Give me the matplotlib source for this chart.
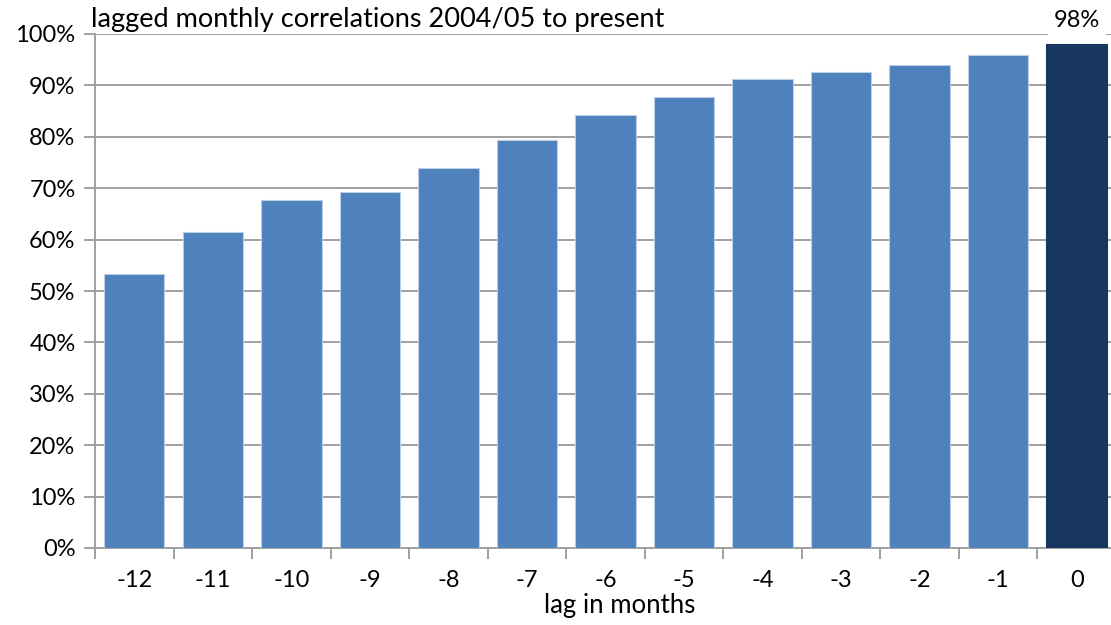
import matplotlib.pyplot as plt
from matplotlib.ticker import FixedLocator, PercentFormatter

lags = ['-12', '-11', '-10', '-9', '-8', '-7', '-6', '-5', '-4', '-3', '-2', '-1', '0']
correlations = [53.3, 61.5, 67.7, 69.3, 73.9, 79.4, 84.2, 87.7, 91.2, 92.6, 94.0, 95.9, 98.0]

plt.rcParams['font.family'] = ['Lato', 'DejaVu Sans']

fig = plt.figure(figsize=(11.11, 6.25), dpi=100)
# the plot area runs slightly past the right edge of the figure
ax = fig.add_axes([0.0855, 0.1232, 0.919, 0.8224])

x = range(len(lags))
colors = ['#4F81BD'] * (len(lags) - 1) + ['#17375E']
edges = ['#B9CDE5'] * (len(lags) - 1) + ['#17375E']
ax.bar(x, correlations, width=0.77, color=colors, edgecolor=edges, linewidth=0.8, zorder=3)

ax.set_xlim(-0.5, len(lags) - 0.5)
ax.set_ylim(0, 100)
ax.set_yticks(range(0, 101, 10))
ax.yaxis.set_major_formatter(PercentFormatter(decimals=0))
ax.set_xticks(list(x))
ax.set_xticklabels(lags)
ax.xaxis.set_minor_locator(FixedLocator([i - 0.5 for i in range(len(lags) + 1)]))

ax.grid(axis='y', color='#A0A0A0', linewidth=1.4, zorder=0)
for side in ['top', 'right']:
    ax.spines[side].set_visible(False)
for side in ['left', 'bottom']:
    ax.spines[side].set_color('#A0A0A0')
    ax.spines[side].set_linewidth(1.4)

ax.tick_params(axis='y', length=8, width=1.4, color='#A0A0A0', labelsize=17, pad=6)
ax.tick_params(axis='x', which='major', length=0, labelsize=17, pad=16)
ax.tick_params(axis='x', which='minor', length=8, width=1.4, color='#A0A0A0')

ax.set_xlabel('lag in months', fontsize=18.5, va='center')
ax.xaxis.set_label_coords(0.514, -0.111)
fig.text(0.082, 0.968, 'lagged monthly correlations 2004/05 to present',
         fontsize=19.5, va='center', ha='left')

ax.annotate(f'{correlations[-1]:.0f}%', (len(lags) - 1, correlations[-1]),
            xytext=(0, 9.5), textcoords='offset points', ha='center', va='bottom',
            fontsize=17, bbox=dict(facecolor='white', edgecolor='none', pad=4),
            zorder=5, annotation_clip=False)

fig.savefig('out.png', dpi=100)
